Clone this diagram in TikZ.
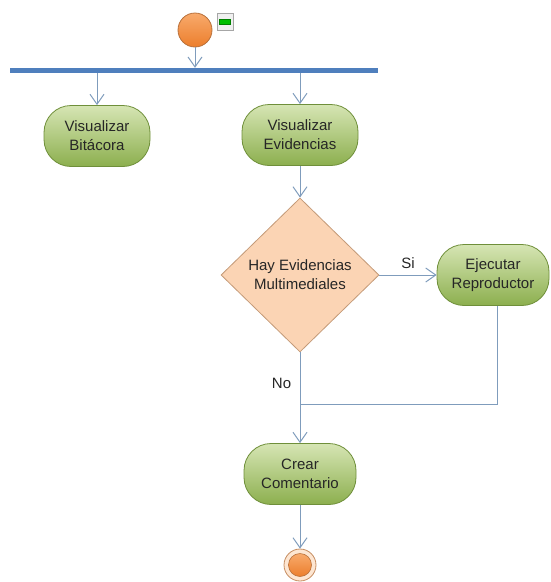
\documentclass[tikz,border=0pt]{standalone}
\usepackage{fontspec}
\setmainfont{Liberation Sans}
\usetikzlibrary{arrows.meta,shapes.geometric,calc}

\definecolor{linkblue}{HTML}{7F9CBC}
\definecolor{barblue}{HTML}{4F7FBD}
\definecolor{greenlight}{HTML}{D6E5B4}
\definecolor{greendark}{HTML}{8CAF4E}
\definecolor{greenedge}{HTML}{6F8F3A}
\definecolor{peach}{HTML}{FBD4B4}
\definecolor{peachedge}{HTML}{C49A78}
\definecolor{orangelight}{HTML}{F8AA6C}
\definecolor{orangedark}{HTML}{EC7E2C}
\definecolor{orangeedge}{HTML}{B8703A}
\definecolor{cream}{HTML}{FDE6D2}
\definecolor{textgray}{HTML}{262626}

\tikzset{
  every node/.style={font=\fontsize{15}{19}\selectfont, text=textgray},
  activity/.style={rectangle, rounded corners=27pt, draw=greenedge, line width=0.8pt,
    top color=greenlight, bottom color=greendark, align=center,
    minimum height=61pt, inner sep=0pt},
  decision/.style={diamond, draw=peachedge, line width=0.8pt, fill=peach, align=center,
    minimum width=158pt, minimum height=154pt, inner sep=0pt},
  flow/.style={draw=linkblue, line width=1pt},
  arr/.style={flow, -{Straight Barb[length=10pt, width=14pt]}},
  startnode/.style={circle, draw=orangeedge, line width=0.8pt,
    top color=orangelight, bottom color=orangedark, minimum size=34pt, inner sep=0pt},
}

\begin{document}
\begin{tikzpicture}[x=1pt, y=-1pt]
  \useasboundingbox (0,0) rectangle (550,582);

  % initial node and its small marker
  \node[startnode] (start) at (195,30) {};
  \node[rectangle, draw=gray!70, fill=gray!12, minimum width=16pt, minimum height=17pt,
        inner sep=0pt] (marker) at (225,22) {};
  \node[rectangle, draw=green!50!black, fill=green!75!black, minimum width=11pt,
        minimum height=5pt, inner sep=0pt] (markerbar) at (marker.center) {};

  % fork bar
  \node[rectangle, fill=barblue, minimum width=368pt, minimum height=5pt, inner sep=0pt]
    (bar) at (194,70.5) {};

  % activities
  \node[activity, minimum width=106pt] (bitacora) at (97,136) {Visualizar\\Bitácora};
  \node[activity, minimum width=116pt] (evid) at (300,135) {Visualizar\\Evidencias};
  \node[decision] (dec) at (300,275) {Hay Evidencias\\Multimediales};
  \node[activity, minimum width=112pt] (ejec) at (493,275) {Ejecutar\\Reproductor};
  \node[activity, minimum width=112pt] (crear) at (300,474) {Crear\\Comentario};

  % final node
  \node[circle, draw=orangeedge!80, fill=cream, line width=0.8pt, minimum size=32pt,
        inner sep=0pt] (final) at (300,565) {};
  \node[circle, draw=orangeedge, line width=0.6pt, top color=orangelight,
        bottom color=orangedark, minimum size=23pt, inner sep=0pt] (finalcore) at (final.center) {};

  \coordinate (merge) at (300,404);

  % connectors
  \draw[arr] (start) -- (start |- bar.north);
  \draw[arr] (bar.south -| bitacora) -- (bitacora);
  \draw[arr] (bar.south -| evid) -- (evid);
  \draw[arr] (evid) -- (dec);
  \draw[arr] (dec.east) -- node[above=3pt] {Si} (ejec.west);
  \draw[arr] (dec.south) -- node[pos=0.34, left=5pt] {No} (crear);
  \draw[flow] ([xshift=4pt]ejec.south) |- (merge);
  \draw[arr] (crear) -- (final);
\end{tikzpicture}
\end{document}
